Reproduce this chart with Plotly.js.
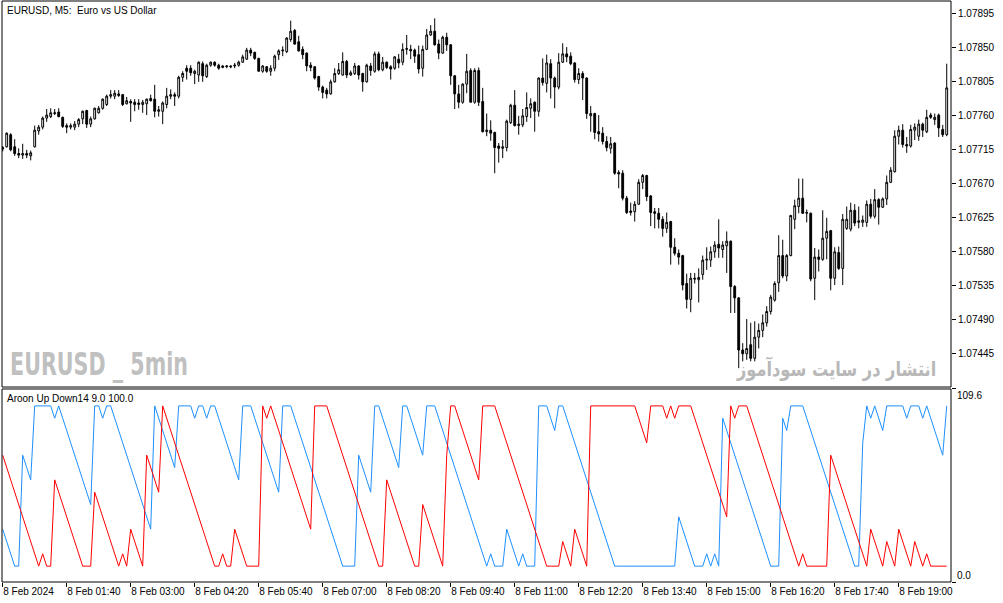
<!DOCTYPE html>
<html>
<head>
<meta charset="utf-8">
<script src="https://cdn.plot.ly/plotly-3.0.1.min.js"></script>
<style>
  html, body { margin: 0; padding: 0; background: #fff; }
  #chart { width: 1003px; height: 603px; }
</style>
</head>
<body>
<div id="chart"></div>
<script>
// EURUSD M5 candles, 8 Feb 2024, first bar 00:20
const open = [
  1.07716,1.07719,1.07735,1.07719,1.07710,1.07708,1.07710,1.07707,1.07719,1.07740,
  1.07745,1.07757,1.07759,1.07763,1.07765,1.07758,1.07747,1.07745,1.07745,1.07749,
  1.07756,1.07767,1.07749,1.07756,1.07764,1.07770,1.07775,1.07786,1.07786,1.07789,
  1.07788,1.07776,1.07779,1.07778,1.07775,1.07775,1.07776,1.07783,1.07782,1.07766,
  1.07766,1.07775,1.07786,1.07788,1.07786,1.07811,1.07823,1.07823,1.07816,1.07814,
  1.07829,1.07812,1.07827,1.07831,1.07827,1.07824,1.07825,1.07826,1.07826,1.07827,
  1.07831,1.07835,1.07847,1.07844,1.07836,1.07819,1.07825,1.07819,1.07823,1.07841,
  1.07846,1.07845,1.07861,1.07873,1.07858,1.07848,1.07843,1.07827,1.07825,1.07812,
  1.07798,1.07794,1.07789,1.07805,1.07816,1.07814,1.07832,1.07814,1.07816,1.07826,
  1.07816,1.07805,1.07826,1.07819,1.07842,1.07821,1.07831,1.07825,1.07823,1.07835,
  1.07831,1.07848,1.07848,1.07847,1.07841,1.07823,1.07848,1.07867,1.07872,1.07855,
  1.07843,1.07864,1.07854,1.07813,1.07789,1.07778,1.07802,1.07820,1.07778,1.07820,
  1.07779,1.07739,1.07741,1.07738,1.07720,1.07717,1.07718,1.07751,1.07774,1.07747,
  1.07748,1.07759,1.07770,1.07778,1.07766,1.07810,1.07803,1.07829,1.07810,1.07798,
  1.07831,1.07842,1.07839,1.07830,1.07808,1.07816,1.07810,1.07760,1.07763,1.07739,
  1.07737,1.07726,1.07717,1.07724,1.07685,1.07684,1.07651,1.07632,1.07633,1.07643,
  1.07672,1.07681,1.07654,1.07633,1.07631,1.07623,1.07611,1.07620,1.07586,1.07578,
  1.07575,1.07538,1.07517,1.07545,1.07543,1.07550,1.07569,1.07569,1.07580,1.07590,
  1.07583,1.07588,1.07594,1.07534,1.07519,1.07450,1.07445,1.07457,1.07439,1.07467,
  1.07476,1.07486,1.07501,1.07516,1.07539,1.07575,1.07548,1.07575,1.07623,1.07640,
  1.07651,1.07631,1.07631,1.07545,1.07573,1.07570,1.07598,1.07608,1.07545,1.07579,
  1.07558,1.07611,1.07610,1.07635,1.07619,1.07619,1.07619,1.07643,1.07627,1.07649,
  1.07639,1.07650,1.07672,1.07686,1.07733,1.07741,1.07722,1.07720,1.07741,1.07733,
  1.07749,1.07739,1.07761,1.07755,1.07761,1.07742,1.07735
];
const high = [
  1.07720,1.07738,1.07737,1.07729,1.07717,1.07723,1.07715,1.07714,1.07747,1.07748,
  1.07759,1.07769,1.07770,1.07769,1.07770,1.07759,1.07750,1.07750,1.07753,1.07757,
  1.07767,1.07768,1.07759,1.07771,1.07773,1.07783,1.07788,1.07794,1.07794,1.07794,
  1.07789,1.07785,1.07782,1.07782,1.07782,1.07781,1.07783,1.07788,1.07801,1.07773,
  1.07779,1.07797,1.07795,1.07791,1.07813,1.07819,1.07827,1.07827,1.07821,1.07832,
  1.07832,1.07829,1.07832,1.07832,1.07829,1.07827,1.07827,1.07827,1.07830,1.07833,
  1.07841,1.07850,1.07850,1.07845,1.07837,1.07827,1.07826,1.07827,1.07841,1.07848,
  1.07852,1.07864,1.07886,1.07875,1.07866,1.07852,1.07844,1.07831,1.07826,1.07813,
  1.07800,1.07797,1.07808,1.07823,1.07830,1.07844,1.07834,1.07820,1.07830,1.07827,
  1.07817,1.07829,1.07830,1.07845,1.07845,1.07838,1.07832,1.07827,1.07839,1.07842,
  1.07856,1.07867,1.07854,1.07849,1.07853,1.07853,1.07875,1.07880,1.07889,1.07861,
  1.07866,1.07870,1.07855,1.07814,1.07801,1.07803,1.07842,1.07823,1.07823,1.07824,
  1.07797,1.07763,1.07754,1.07739,1.07724,1.07728,1.07755,1.07776,1.07794,1.07760,
  1.07769,1.07791,1.07783,1.07779,1.07811,1.07836,1.07841,1.07835,1.07812,1.07843,
  1.07856,1.07851,1.07844,1.07831,1.07823,1.07819,1.07811,1.07773,1.07764,1.07761,
  1.07745,1.07733,1.07732,1.07725,1.07688,1.07688,1.07654,1.07645,1.07647,1.07676,
  1.07683,1.07682,1.07655,1.07638,1.07638,1.07627,1.07632,1.07621,1.07598,1.07583,
  1.07576,1.07551,1.07552,1.07552,1.07558,1.07575,1.07586,1.07587,1.07594,1.07623,
  1.07594,1.07607,1.07595,1.07536,1.07520,1.07459,1.07491,1.07486,1.07488,1.07485,
  1.07497,1.07508,1.07523,1.07541,1.07602,1.07596,1.07577,1.07629,1.07649,1.07677,
  1.07677,1.07636,1.07632,1.07585,1.07583,1.07635,1.07625,1.07609,1.07586,1.07587,
  1.07630,1.07640,1.07645,1.07643,1.07640,1.07628,1.07648,1.07650,1.07663,1.07651,
  1.07652,1.07681,1.07692,1.07741,1.07747,1.07749,1.07732,1.07748,1.07750,1.07755,
  1.07751,1.07768,1.07764,1.07763,1.07763,1.07748,1.07829
];
const low = [
  1.07713,1.07718,1.07713,1.07707,1.07704,1.07703,1.07704,1.07701,1.07718,1.07735,
  1.07742,1.07752,1.07757,1.07761,1.07758,1.07744,1.07737,1.07742,1.07741,1.07745,
  1.07749,1.07744,1.07745,1.07755,1.07763,1.07768,1.07773,1.07783,1.07782,1.07785,
  1.07773,1.07775,1.07752,1.07766,1.07768,1.07764,1.07761,1.07779,1.07758,1.07759,
  1.07749,1.07770,1.07782,1.07773,1.07783,1.07805,1.07808,1.07813,1.07802,1.07805,
  1.07805,1.07810,1.07825,1.07825,1.07821,1.07823,1.07823,1.07823,1.07823,1.07825,
  1.07830,1.07834,1.07839,1.07834,1.07819,1.07817,1.07817,1.07813,1.07819,1.07834,
  1.07839,1.07843,1.07858,1.07854,1.07845,1.07835,1.07819,1.07819,1.07808,1.07793,
  1.07783,1.07783,1.07788,1.07804,1.07814,1.07813,1.07810,1.07813,1.07814,1.07808,
  1.07792,1.07804,1.07813,1.07817,1.07819,1.07819,1.07822,1.07808,1.07821,1.07823,
  1.07827,1.07841,1.07835,1.07830,1.07816,1.07812,1.07847,1.07866,1.07853,1.07835,
  1.07842,1.07846,1.07801,1.07769,1.07770,1.07776,1.07790,1.07778,1.07776,1.07773,
  1.07738,1.07733,1.07727,1.07684,1.07698,1.07704,1.07713,1.07749,1.07746,1.07735,
  1.07745,1.07752,1.07757,1.07739,1.07759,1.07800,1.07791,1.07783,1.07770,1.07795,
  1.07830,1.07831,1.07827,1.07804,1.07802,1.07781,1.07756,1.07739,1.07729,1.07726,
  1.07722,1.07713,1.07710,1.07682,1.07664,1.07648,1.07630,1.07628,1.07620,1.07642,
  1.07663,1.07647,1.07614,1.07611,1.07611,1.07600,1.07605,1.07563,1.07575,1.07563,
  1.07529,1.07505,1.07500,1.07538,1.07513,1.07543,1.07556,1.07560,1.07572,1.07572,
  1.07572,1.07552,1.07499,1.07499,1.07426,1.07435,1.07437,1.07435,1.07435,1.07452,
  1.07467,1.07481,1.07497,1.07514,1.07527,1.07545,1.07541,1.07574,1.07610,1.07631,
  1.07630,1.07619,1.07541,1.07516,1.07554,1.07568,1.07570,1.07529,1.07536,1.07556,
  1.07536,1.07609,1.07607,1.07614,1.07611,1.07613,1.07613,1.07624,1.07624,1.07616,
  1.07638,1.07642,1.07671,1.07685,1.07722,1.07718,1.07711,1.07718,1.07728,1.07727,
  1.07732,1.07737,1.07756,1.07748,1.07732,1.07732,1.07733
];
const close = [
  1.07718,1.07737,1.07715,1.07710,1.07708,1.07710,1.07708,1.07711,1.07741,1.07745,
  1.07757,1.07761,1.07764,1.07764,1.07759,1.07746,1.07745,1.07747,1.07749,1.07755,
  1.07766,1.07749,1.07756,1.07770,1.07770,1.07782,1.07786,1.07788,1.07790,1.07787,
  1.07775,1.07780,1.07777,1.07775,1.07777,1.07778,1.07782,1.07780,1.07766,1.07768,
  1.07777,1.07786,1.07788,1.07786,1.07811,1.07816,1.07819,1.07817,1.07819,1.07831,
  1.07813,1.07827,1.07831,1.07827,1.07823,1.07826,1.07826,1.07825,1.07827,1.07831,
  1.07838,1.07847,1.07843,1.07836,1.07819,1.07826,1.07819,1.07823,1.07839,1.07846,
  1.07847,1.07863,1.07872,1.07855,1.07846,1.07841,1.07826,1.07824,1.07810,1.07798,
  1.07791,1.07789,1.07805,1.07816,1.07821,1.07832,1.07814,1.07817,1.07826,1.07814,
  1.07805,1.07827,1.07820,1.07842,1.07821,1.07831,1.07824,1.07822,1.07838,1.07830,
  1.07848,1.07849,1.07846,1.07839,1.07822,1.07848,1.07867,1.07872,1.07854,1.07843,
  1.07864,1.07854,1.07813,1.07789,1.07778,1.07802,1.07819,1.07778,1.07820,1.07778,
  1.07739,1.07741,1.07737,1.07718,1.07717,1.07719,1.07753,1.07774,1.07747,1.07749,
  1.07760,1.07771,1.07776,1.07766,1.07810,1.07804,1.07830,1.07810,1.07798,1.07831,
  1.07842,1.07838,1.07829,1.07808,1.07816,1.07810,1.07763,1.07763,1.07738,1.07736,
  1.07726,1.07718,1.07723,1.07684,1.07683,1.07651,1.07632,1.07634,1.07643,1.07672,
  1.07681,1.07653,1.07632,1.07631,1.07623,1.07611,1.07619,1.07586,1.07578,1.07573,
  1.07536,1.07517,1.07545,1.07544,1.07546,1.07569,1.07570,1.07580,1.07589,1.07585,
  1.07589,1.07594,1.07534,1.07519,1.07450,1.07445,1.07452,1.07439,1.07467,1.07476,
  1.07486,1.07501,1.07520,1.07538,1.07575,1.07548,1.07575,1.07628,1.07641,1.07651,
  1.07631,1.07632,1.07544,1.07573,1.07570,1.07598,1.07607,1.07545,1.07580,1.07558,
  1.07623,1.07623,1.07635,1.07618,1.07621,1.07622,1.07643,1.07627,1.07649,1.07639,
  1.07650,1.07672,1.07688,1.07733,1.07741,1.07722,1.07720,1.07742,1.07745,1.07749,
  1.07741,1.07758,1.07758,1.07758,1.07744,1.07735,1.07797
];

// Aroon (14) lines of the lower window
const aroonDown = [
  72,65,58,51,44,37,30,23,16,9,
  16,9,9,58,51,44,37,30,23,16,
  9,9,9,51,44,37,30,23,16,9,
  16,9,30,23,16,9,72,65,58,51,
  100,93,86,79,72,65,58,51,44,37,
  30,23,16,9,9,16,9,9,30,23,
  16,9,9,9,9,100,93,100,93,86,
  79,72,65,58,51,44,37,30,100,100,
  100,100,93,86,79,72,65,58,51,44,
  37,30,23,16,9,9,58,51,44,37,
  30,23,16,9,9,44,37,30,23,16,
  9,72,100,100,93,86,79,72,65,58,
  100,100,100,100,93,86,79,72,65,58,
  51,44,37,30,23,16,9,9,9,9,
  23,16,9,30,23,16,9,100,100,100,
  100,100,100,100,100,100,100,100,100,93,
  86,79,100,100,100,100,93,100,93,100,
  100,100,100,93,86,79,72,65,58,51,
  44,37,100,93,100,100,100,93,86,79,
  72,65,58,51,44,37,30,23,16,9,
  16,9,9,9,9,9,9,72,65,58,
  51,44,37,30,23,16,9,30,23,16,
  9,23,16,9,30,23,16,9,23,16,
  9,16,9,9,9,9,9
];
const aroonUp = [
  30,23,16,9,9,72,65,58,100,100,
  100,100,100,93,100,93,86,79,72,65,
  58,51,44,100,100,93,100,100,93,86,
  79,72,65,58,51,44,37,30,100,93,
  86,79,72,65,100,100,100,100,93,100,
  100,93,100,100,93,86,79,72,65,58,
  100,100,100,93,86,79,72,65,58,51,
  100,100,100,93,86,79,72,65,58,51,
  44,37,30,23,16,9,9,9,9,72,
  65,58,51,100,100,93,86,79,72,65,
  100,100,93,86,79,72,100,100,100,93,
  86,79,72,65,58,51,44,37,30,23,
  16,9,16,9,9,9,30,23,16,9,
  16,9,9,9,100,100,100,93,86,100,
  100,93,86,79,72,65,58,51,44,37,
  30,23,16,9,9,9,9,9,9,9,
  9,9,9,9,9,9,9,9,9,37,
  30,23,16,9,9,9,16,9,16,9,
  93,86,79,72,65,58,51,44,37,30,
  23,16,9,9,9,93,86,100,100,100,
  100,93,86,79,72,65,58,51,44,37,
  30,23,16,9,9,79,100,93,100,93,
  86,100,100,100,100,100,93,100,100,100,
  93,100,93,86,79,72,100
];

const priceTicks = [1.07445,1.07490,1.07535,1.07580,1.07625,1.07670,1.07715,1.07760,1.07805,1.07850,1.07895];
const timeTicks = ['2024-02-08 00:20','2024-02-08 01:40','2024-02-08 03:00','2024-02-08 04:20','2024-02-08 05:40',
  '2024-02-08 07:00','2024-02-08 08:20','2024-02-08 09:40','2024-02-08 11:00','2024-02-08 12:20',
  '2024-02-08 13:40','2024-02-08 15:00','2024-02-08 16:20','2024-02-08 17:40','2024-02-08 19:00'];
const timeLabels = ['8 Feb 2024','8 Feb 01:40','8 Feb 03:00','8 Feb 04:20','8 Feb 05:40',
  '8 Feb 07:00','8 Feb 08:20','8 Feb 09:40','8 Feb 11:00','8 Feb 12:20',
  '8 Feb 13:40','8 Feb 15:00','8 Feb 16:20','8 Feb 17:40','8 Feb 19:00'];

// bar times, one every 5 minutes from 00:20
const t0 = Date.UTC(2024, 1, 8, 0, 20);
const times = open.map((_, i) => new Date(t0 + i * 300000).toISOString().slice(0, 19).replace('T', ' '));

const FONT = 'Liberation Sans, Arial, sans-serif';
const mainDom = [0.3356, 1];
const subDom = [0, 0.3322];
const WM1 = 'EURUSD _ 5min';
const WM2 = 'انتشار در سایت سودآموز';

const traces = [
  {
    type: 'candlestick', x: times, open: open, high: high, low: low, close: close,
    xaxis: 'x', yaxis: 'y',
    increasing: {line: {color: '#000', width: 1}, fillcolor: '#fff'},
    decreasing: {line: {color: '#000', width: 1}, fillcolor: '#000'},
    whiskerwidth: 0, hoverinfo: 'skip'
  },
  {
    type: 'scatter', mode: 'lines', x: times, y: aroonUp, xaxis: 'x', yaxis: 'y2',
    line: {color: '#1e90ff', width: 1}, hoverinfo: 'skip'
  },
  {
    type: 'scatter', mode: 'lines', x: times, y: aroonDown, xaxis: 'x', yaxis: 'y2',
    line: {color: '#ff0000', width: 1}, hoverinfo: 'skip'
  }
];

const layout = {
  width: 1003, height: 603,
  margin: {l: 2, r: 52, t: 1, b: 21, pad: 0},
  paper_bgcolor: '#fff', plot_bgcolor: '#fff',
  showlegend: false,
  boxgap: 0.35,
  font: {family: FONT, size: 10, color: '#000'},
  xaxis: {
    type: 'date', anchor: 'y2',
    range: ['2024-02-08 00:19:07.5', '2024-02-08 20:05:21'],
    rangeslider: {visible: false},
    tickvals: timeTicks, ticktext: timeLabels,
    ticks: 'outside', ticklen: 4, tickcolor: '#000',
    ticklabelposition: 'outside right',
    tickfont: {family: FONT, size: 10, color: '#000'},
    showgrid: false, zeroline: false, showline: false
  },
  yaxis: {
    domain: mainDom, side: 'right', anchor: 'x',
    range: [1.07401, 1.07912],
    tickvals: priceTicks, ticktext: priceTicks.map(v => v.toFixed(5)),
    ticks: 'outside', ticklen: 4, tickcolor: '#000',
    tickfont: {family: FONT, size: 10, color: '#000'},
    showgrid: false, zeroline: false, showline: false
  },
  yaxis2: {
    domain: subDom, side: 'right', anchor: 'x',
    range: [0, 109.6],
    tickvals: [0, 109.6], showticklabels: false,
    ticks: 'outside', ticklen: 4, tickcolor: '#000',
    showgrid: false, zeroline: false, showline: false
  },
  shapes: [
    {type: 'rect', xref: 'paper', yref: 'paper', x0: 0, x1: 1, y0: mainDom[0], y1: mainDom[1],
      line: {color: '#000', width: 1}},
    {type: 'rect', xref: 'paper', yref: 'paper', x0: 0, x1: 1, y0: subDom[0], y1: subDom[1],
      line: {color: '#000', width: 1}}
  ],
  annotations: [
    {text: 'EURUSD, M5:\u00a0\u00a0Euro vs US Dollar', xref: 'paper', yref: 'paper', x: 0, y: 1,
      xanchor: 'left', yanchor: 'top', xshift: 3, yshift: -2, showarrow: false,
      font: {family: FONT, size: 10, color: '#000'}},
    {text: 'Aroon Up Down14 9.0 100.0', xref: 'paper', yref: 'paper', x: 0, y: subDom[1],
      xanchor: 'left', yanchor: 'top', xshift: 3, yshift: -2, showarrow: false,
      font: {family: FONT, size: 10, color: '#000'}},
    {text: '<b>' + WM1 + '</b>', xref: 'paper', yref: 'paper', x: 0, y: mainDom[0],
      xanchor: 'left', yanchor: 'bottom', xshift: 6, yshift: 2, showarrow: false,
      font: {family: 'DejaVu Sans, sans-serif', size: 32, color: '#c0c0c0'}},
    {text: '<b>' + WM2 + '</b>', xref: 'paper', yref: 'paper', x: 0.986, y: mainDom[0],
      xanchor: 'right', yanchor: 'bottom', yshift: 4, showarrow: false,
      font: {family: 'DejaVu Sans, sans-serif', size: 20, color: '#b8b8b8'}},
    {text: '109.6', xref: 'paper', yref: 'y2', x: 1, y: 109.6,
      xanchor: 'left', yanchor: 'top', xshift: 4, yshift: 1, showarrow: false,
      font: {family: FONT, size: 10, color: '#000'}},
    {text: '0.0', xref: 'paper', yref: 'y2', x: 1, y: 0,
      xanchor: 'left', yanchor: 'bottom', xshift: 4, yshift: -1, showarrow: false,
      font: {family: FONT, size: 10, color: '#000'}}
  ]
};

Plotly.newPlot('chart', traces, layout, {displayModeBar: false, staticPlot: true}).then(gd => {
  // the watermarks use a narrow face in the original: squeeze them to its width
  const fit = {};
  fit[WM1] = {w: 178, right: false};
  fit[WM2] = {w: 200, right: true};
  gd.querySelectorAll('.annotation-text').forEach(t => {
    const f = fit[t.textContent];
    if (!f) return;
    const b = t.getBBox();
    const s = f.w / b.width;
    const ax = f.right ? b.x + b.width : b.x;
    t.setAttribute('transform', 'matrix(' + s + ',0,0,1,' + (ax * (1 - s)) + ',0)');
  });
});
</script>
</body>
</html>
